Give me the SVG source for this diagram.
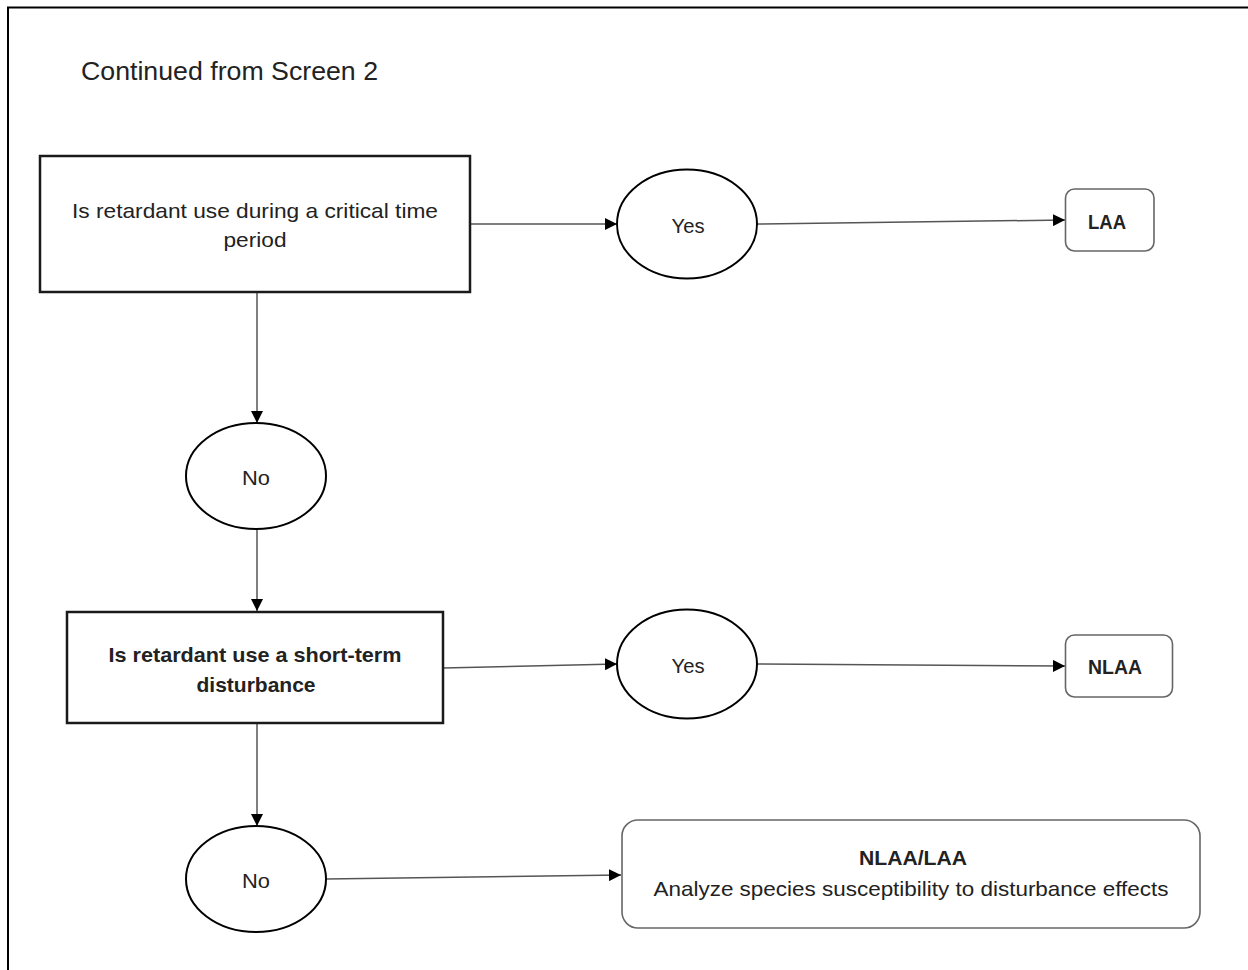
<svg xmlns="http://www.w3.org/2000/svg" width="1248" height="970" viewBox="0 0 1248 970">
<defs>
<marker id="ah" markerUnits="userSpaceOnUse" markerWidth="13" markerHeight="12" refX="12" refY="6" orient="auto">
<path d="M0,0 L12,6 L0,12 z" fill="#000"/>
</marker>
<style>
.t{font-family:"Liberation Sans",Arial,sans-serif;fill:#222;text-anchor:middle}
.b{font-weight:bold}
.box{fill:#fff;stroke:#1a1a1a;stroke-width:2.5}
.ell{fill:#fff;stroke:#000;stroke-width:2}
.rbox{fill:#fff;stroke:#666;stroke-width:1.6}
.c{fill:none;stroke:#555;stroke-width:1.5;marker-end:url(#ah)}
</style>
</defs>
<rect width="1248" height="970" fill="#fff"/>
<path d="M8,972 L8,7.5 L1250,7.5" fill="none" stroke="#000" stroke-width="2"/>
<text class="t" x="81" y="80" style="text-anchor:start" font-size="25" textLength="297" lengthAdjust="spacingAndGlyphs">Continued from Screen 2</text>
<g id="connectors">
<path class="c" d="M470,224 L617,224"/>
<path class="c" d="M757,224 L1065,220"/>
<path class="c" d="M257,292 L257,423"/>
<path class="c" d="M257,529 L257,611"/>
<path class="c" d="M443,668 L617,664"/>
<path class="c" d="M757,664 L1065,666"/>
<path class="c" d="M257,723 L257,826"/>
<path class="c" d="M326,879 L621,875"/>
</g>
<g id="q1">
<rect class="box" x="40" y="156" width="430" height="136"/>
<text class="t" x="255" y="218" font-size="21" textLength="366" lengthAdjust="spacingAndGlyphs">Is retardant use during a critical time</text>
<text class="t" x="255" y="247" font-size="21" textLength="63" lengthAdjust="spacingAndGlyphs">period</text>
</g>
<g id="yes1">
<ellipse class="ell" cx="687" cy="224" rx="70" ry="54.5"/>
<text class="t" x="688" y="233" font-size="21" textLength="33" lengthAdjust="spacingAndGlyphs">Yes</text>
</g>
<g id="laa">
<rect class="rbox" x="1065.5" y="189" width="88.5" height="62" rx="9"/>
<text class="t b" x="1107" y="229" font-size="20" textLength="38" lengthAdjust="spacingAndGlyphs">LAA</text>
</g>
<g id="no1">
<ellipse class="ell" cx="256" cy="476" rx="70" ry="53"/>
<text class="t" x="256" y="485" font-size="21" textLength="28" lengthAdjust="spacingAndGlyphs">No</text>
</g>
<g id="q2">
<rect class="box" x="67" y="612" width="376" height="111"/>
<text class="t b" x="255" y="662" font-size="21" textLength="293" lengthAdjust="spacingAndGlyphs">Is retardant use a short-term</text>
<text class="t b" x="256" y="692" font-size="21">disturbance</text>
</g>
<g id="yes2">
<ellipse class="ell" cx="687" cy="664" rx="70" ry="54.5"/>
<text class="t" x="688" y="673" font-size="21" textLength="33" lengthAdjust="spacingAndGlyphs">Yes</text>
</g>
<g id="nlaa">
<rect class="rbox" x="1065.5" y="635" width="107" height="62" rx="9"/>
<text class="t b" x="1115" y="674" font-size="20" textLength="54" lengthAdjust="spacingAndGlyphs">NLAA</text>
</g>
<g id="no2">
<ellipse class="ell" cx="256" cy="879" rx="70" ry="53"/>
<text class="t" x="256" y="888" font-size="21" textLength="28" lengthAdjust="spacingAndGlyphs">No</text>
</g>
<g id="nlaalaa">
<rect class="rbox" x="622" y="820" width="578" height="108" rx="16"/>
<text class="t b" x="913" y="865" font-size="21" textLength="108" lengthAdjust="spacingAndGlyphs">NLAA/LAA</text>
<text class="t" x="911" y="896" font-size="21" textLength="515" lengthAdjust="spacingAndGlyphs">Analyze species susceptibility to disturbance effects</text>
</g>
</svg>
